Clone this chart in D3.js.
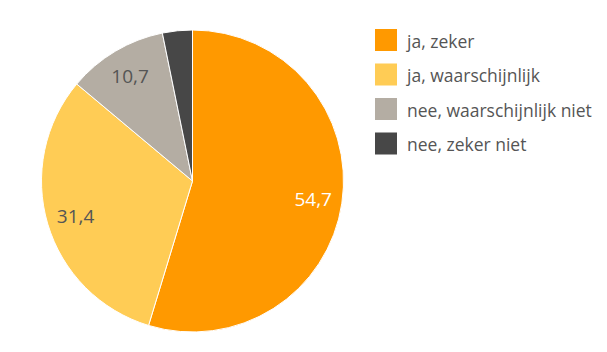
<!DOCTYPE html>
<html><head><meta charset="utf-8">
<script src="https://cdn.jsdelivr.net/npm/d3@7"></script>
<style>body{margin:0;background:#fff}svg{display:block}</style>
</head><body>
<svg id="c" width="607" height="352"></svg>
<script>
const categories = ["ja, zeker", "ja, waarschijnlijk", "nee, waarschijnlijk niet", "nee, zeker niet"];
const values = [54.7, 31.4, 10.7, 3.2];
const labels = ["54,7", "31,4", "10,7", ""];
const colors = ["#FF9900", "#FFCC55", "#B4ADA3", "#474747"];
const labelColors = ["#ffffff", "#555555", "#555555", "#ffffff"];

const svg = d3.select("#c");
const cx = 192.5, cy = 181, r = 151;
const g = svg.append("g").attr("transform", `translate(${cx},${cy})`);
const pie = d3.pie().sort(null).value(d => d)(values);
const arc = d3.arc().innerRadius(0).outerRadius(r);
const labelArc = d3.arc().innerRadius(122).outerRadius(122);
g.selectAll("path").data(pie).join("path")
  .attr("d", arc).attr("fill", (d,i) => colors[i])
  .attr("stroke", "#fff").attr("stroke-width", 1);
g.selectAll("text").data(pie).join("text")
  .attr("transform", d => `translate(${labelArc.centroid(d)})`)
  .attr("text-anchor", "middle").attr("dy", "0.36em")
  .attr("font-family", "Open Sans, sans-serif").attr("font-size", 19)
  .attr("fill", (d,i) => labelColors[i])
  .text((d,i) => labels[i]);

const lg = svg.append("g").attr("transform", "translate(375,29)");
const item = lg.selectAll("g").data(categories).join("g")
  .attr("transform", (d,i) => `translate(0,${i*34.5})`);
item.append("rect").attr("width", 22).attr("height", 22).attr("fill", (d,i) => colors[i]);
item.append("text").attr("x", 32).attr("y", 18.5)
  .attr("font-family", "Open Sans, sans-serif").attr("font-size", 17.5)
  .attr("fill", "#555555").text(d => d);
</script>
</body></html>
